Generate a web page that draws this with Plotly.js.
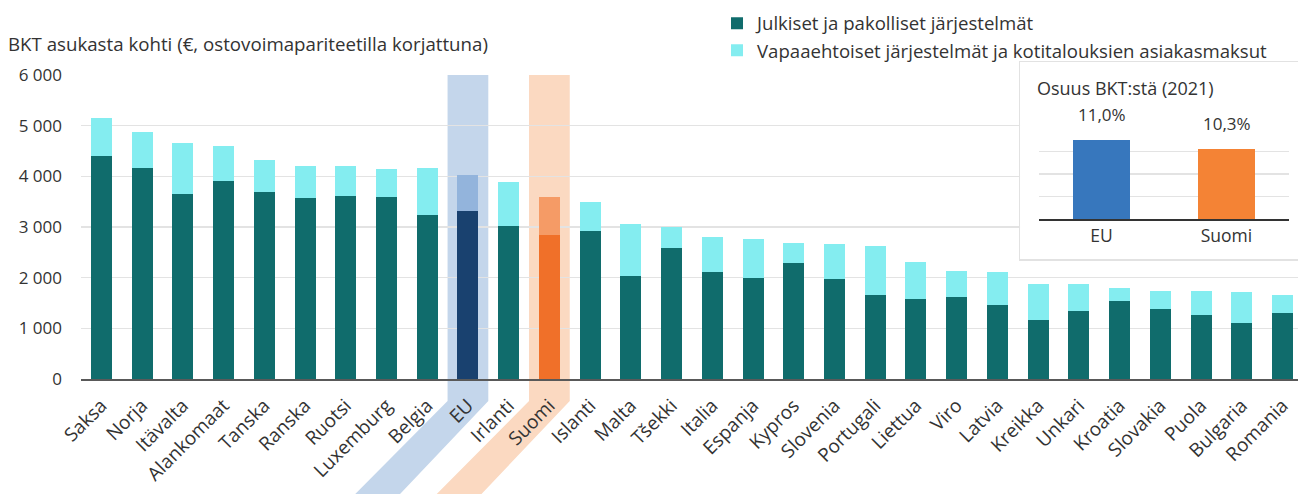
<!DOCTYPE html>
<html>
<head>
<meta charset="utf-8">
<script src="https://cdn.plot.ly/plotly-3.0.1.min.js"></script>
<style>
html,body{margin:0;padding:0;background:#fff;}
#chart{width:1298px;height:494px;}
</style>
</head>
<body>
<div id="chart"></div>
<script>
// ---- data ----
const categories = ["Saksa","Norja","Itävalta","Alankomaat","Tanska","Ranska","Ruotsi","Luxemburg","Belgia","EU","Irlanti","Suomi","Islanti","Malta","Tšekki","Italia","Espanja","Kypros","Slovenia","Portugali","Liettua","Viro","Latvia","Kreikka","Unkari","Kroatia","Slovakia","Puola","Bulgaria","Romania"];
const publicSchemes = [4410,4170,3655,3910,3690,3565,3615,3595,3240,3320,3010,2850,2925,2035,2590,2105,1985,2290,1965,1660,1580,1620,1460,1165,1350,1530,1385,1260,1105,1305];
const voluntarySchemes = [750,710,1010,695,640,645,595,540,930,710,885,750,575,1025,410,690,780,400,700,970,735,505,655,710,520,270,360,475,610,360];
const seriesNames = ["Julkiset ja pakolliset järjestelmät","Vapaaehtoiset järjestelmät ja kotitalouksien asiakasmaksut"];
const yAxisLabel = "BKT asukasta kohti (€, ostovoimapariteetilla korjattuna)";

const insetTitle = "Osuus BKT:stä (2021)";
const insetCategories = ["EU","Suomi"];
const insetShares = [11.0, 10.3];

// ---- styles ----
const C = {
  teal:"#106c6c", cyan:"#84edf0",
  euDark:"#19416f", euLight:"#93b4dc",
  fiDark:"#f07029", fiLight:"#f59b66",
  bandEU:"#c4d6eb", bandFI:"#fbd9c1",
  insetEU:"#3777bd", insetFI:"#f48335",
  text:"#333333", grid:"#e3e3e3"
};
const colorFor = (c, base, eu, fi) => c === "EU" ? eu : (c === "Suomi" ? fi : base);
const darkColors = categories.map(c => colorFor(c, C.teal, C.euDark, C.fiDark));
const lightColors = categories.map(c => colorFor(c, C.cyan, C.euLight, C.fiLight));

const labelFont = "'Open Sans', sans-serif";
const tickFont = "'Open Sans', sans-serif";

const traces = [
  {type:"bar", x:categories, y:publicSchemes, name:seriesNames[0], width:0.515,
   marker:{color:darkColors, line:{width:0}}, xaxis:"x", yaxis:"y", legendgroup:"a", hoverinfo:"x+y"},
  {type:"bar", x:categories, y:voluntarySchemes, name:seriesNames[1], width:0.515,
   marker:{color:lightColors, line:{width:0}}, xaxis:"x", yaxis:"y", legendgroup:"b", hoverinfo:"x+y"},
  // frame subplot for the inset box
  {type:"scatter", x:[], y:[], xaxis:"x2", yaxis:"y2", showlegend:false, hoverinfo:"skip"},
  // inset
  {type:"bar", x:insetCategories, y:insetShares, width:0.456, base:0,
   marker:{color:[C.insetEU, C.insetFI]}, xaxis:"x3", yaxis:"y3", showlegend:false, hoverinfo:"x+y"}
];

// band geometry (x in category units, y in paper units)
const yKnee = -0.067, yBottom = -0.35;
function band(idx, color){
  const l = idx - 0.5, r = idx + 0.5;
  return {type:"path", xref:"x", yref:"paper", layer:"below", line:{width:0}, fillcolor:color,
    path:`M${l},${0.924} L${r},${0.924} L${r},${yKnee} L${r-2.17},${yBottom} L${l-2.27},${yBottom} L${l},${yKnee} Z`};
}
const euIdx = categories.indexOf("EU"), fiIdx = categories.indexOf("Suomi");

const fmtPct = v => v.toFixed(1).replace(".", ",") + "%";

const layout = {
  width:1298, height:494,
  margin:{l:81, r:0, t:50, b:115},
  paper_bgcolor:"#fff", plot_bgcolor:"#fff",
  separators:", ",
  font:{family:tickFont, color:C.text, size:17},
  barmode:"stack",
  showlegend:true,
  title:{text:yAxisLabel, x:8/1298, xanchor:"left", xref:"container", y:1-44/494, yanchor:"middle", yref:"container",
    font:{family:labelFont, size:18.7, color:C.text}},
  legend:{x:0.5226, xanchor:"left", y:1.138, yanchor:"top", traceorder:"normal", tracegroupgap:1,
    font:{family:labelFont, size:18.6, color:C.text}, bgcolor:"rgba(0,0,0,0)"},
  xaxis:{type:"category", range:[-0.5, 29.38], domain:[0,1], tickangle:-45, showgrid:false,
    showline:true, linecolor:"#595959", linewidth:2, ticks:"", ticklabelstandoff:6,
    tickfont:{family:tickFont, size:19, color:C.text}, fixedrange:true},
  yaxis:{range:[0,6000], domain:[0,0.924], dtick:1000, tickformat:",d", showgrid:true, gridcolor:C.grid, gridwidth:1.5,
    zeroline:false, showline:false, ticks:"", ticklabelstandoff:18, tickfont:{family:tickFont, size:17, color:C.text},
    fixedrange:true},
  xaxis2:{domain:[0.7716,1], range:[0,1], anchor:"y2", showgrid:false, zeroline:false, showticklabels:false,
    showline:true, mirror:true, linecolor:"#e2e2e2", linewidth:1.5, fixedrange:true},
  yaxis2:{domain:[0.3647,0.9635], range:[0,1], anchor:"x2", showgrid:false, zeroline:false, showticklabels:false,
    showline:true, mirror:false, linecolor:"#e2e2e2", linewidth:1.5, fixedrange:true},
  xaxis3:{domain:[0.7872,0.9926], anchor:"y3", type:"category", showgrid:false, showline:true, linecolor:"#333",
    linewidth:1.5, ticks:"", tickfont:{family:tickFont, size:17.5, color:C.text}, fixedrange:true},
  yaxis3:{domain:[0.4863,0.7599], anchor:"x3", range:[4.85,11.85], tick0:4.85, dtick:1.75, showticklabels:false,
    showgrid:true, gridcolor:C.grid, gridwidth:1.5, zeroline:false, showline:false, fixedrange:true},
  shapes:[band(euIdx, C.bandEU), band(fiIdx, C.bandFI)],
  annotations:[
    {text:insetTitle, xref:"paper", yref:"paper", x:(1035-81)/1217, y:(379-88)/329, xanchor:"left", yanchor:"middle",
     showarrow:false, font:{family:labelFont, size:18, color:C.text}},
    ...insetCategories.map((c,i)=>({text:fmtPct(insetShares[i]), xref:"x3", yref:"y3", x:c, y:insetShares[i],
      xanchor:"center", yanchor:"bottom", yshift:12, showarrow:false, font:{family:tickFont, size:17, color:C.text}}))
  ]
};

Plotly.newPlot("chart", traces, layout, {displayModeBar:false, staticPlot:true});
</script>
</body>
</html>
